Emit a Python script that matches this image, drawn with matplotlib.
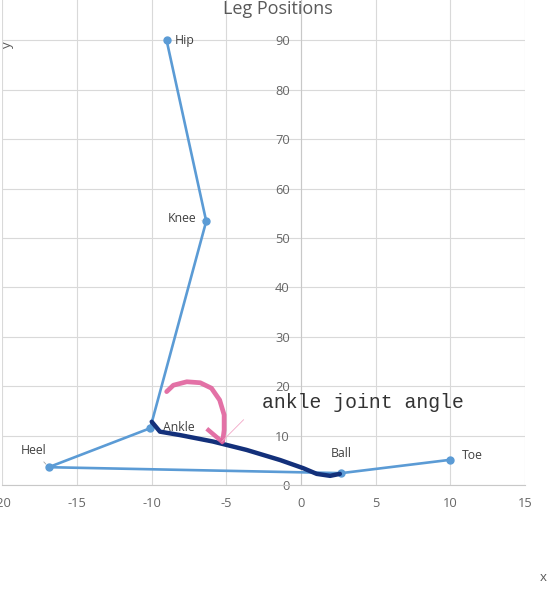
import matplotlib
matplotlib.use("Agg")
import matplotlib.pyplot as plt

plt.rcParams["axes.unicode_minus"] = False

# leg joints, in drawing order
joints = ["Hip", "Knee", "Ankle", "Heel", "Ball", "Toe"]
xs = [-9.0, -6.35, -10.1, -16.9, 2.7, 10.0]
ys = [90.0, 53.4, 11.5, 3.6, 2.4, 5.1]

# hand-drawn overlay: dark stroke ankle -> ball
ink_x = [-10.0, -9.45, -8.1, -5.9, -3.65, -1.4, 0.15, 1.05, 1.95, 2.6]
ink_y = [12.8, 10.8, 10.1, 8.8, 7.1, 5.05, 3.4, 2.25, 1.85, 2.25]

# pink arc for the joint angle
arc_x = [-9.0, -8.55, -7.65, -6.75, -6.0, -5.45, -5.15, -5.15, -5.25]
arc_y = [18.9, 20.2, 20.9, 20.7, 19.6, 17.2, 14.2, 11.1, 8.8]
hook_x = [-6.2, -5.3]
hook_y = [11.1, 8.8]
flick_x = [-5.3, -3.85]
flick_y = [8.8, 13.2]

# label offsets in points
offsets = {
    "Hip": ((5.5, 0), "left"),
    "Knee": ((-7, 2), "right"),
    "Ankle": ((9.5, 0.5), "left"),
    "Heel": ((-11, 12), "center"),
    "Ball": ((0, 14), "center"),
    "Toe": ((8, 3), "left"),
}

grey = "#595959"
grid = "#D9D9D9"

fig = plt.figure(figsize=(5.6, 5.9), dpi=100)
ax = fig.add_axes([0.0043, 0.178, 0.9332, 0.822])

ax.plot(xs, ys, color="#5B9BD5", lw=1.9, marker="o", ms=5, zorder=3)

for name, x, y in zip(joints, xs, ys):
    off, ha = offsets[name]
    arrow = None
    if name in ("Knee", "Heel"):
        arrow = dict(arrowstyle="-", color="#A6A6A6", lw=0.6, shrinkA=2, shrinkB=3)
    ax.annotate(name, xy=(x, y), xytext=off, textcoords="offset points",
                ha=ha, va="center", fontsize=8.8, color="#404040",
                family="Open Sans", arrowprops=arrow, zorder=4)

ax.plot(ink_x, ink_y, color="#13307A", lw=3.2, solid_capstyle="round",
        solid_joinstyle="round", zorder=5)
ax.plot(arc_x, arc_y, color="#E0629C", lw=3.4, alpha=0.9,
        solid_capstyle="round", solid_joinstyle="round", zorder=5)
ax.plot(hook_x, hook_y, color="#E0629C", lw=3.2, alpha=0.9, zorder=5)
ax.plot(flick_x, flick_y, color="#F2A6C6", lw=0.6, zorder=5)

ax.text(-2.6, 16.6, "ankle joint angle", family="Liberation Mono",
        fontsize=14.2, color="#333333", va="center", ha="left", zorder=6)

ax.set_xlim(-20, 15)
ax.set_ylim(0, 98.2)
ax.set_xticks(range(-20, 16, 5))
ax.set_yticks(range(0, 91, 10))
ax.grid(True, color=grid, lw=0.8)
ax.set_axisbelow(True)

for side in ("top", "right"):
    ax.spines[side].set_visible(False)
ax.spines["left"].set_position(("data", 0))
ax.spines["left"].set_color("#C8C8C8")
ax.spines["bottom"].set_color("#C8C8C8")
ax.tick_params(length=0, labelsize=9.3, labelcolor="#666666")
ax.tick_params(axis="y", pad=8)
ax.tick_params(axis="x", pad=9)
for lab in ax.get_xticklabels() + ax.get_yticklabels():
    lab.set_family("Open Sans")

fig.text(0.497, 0.985, "Leg Positions", ha="center", va="center",
         fontsize=13, color=grey, family="Open Sans")
fig.text(0.014, 0.924, "y", rotation=90, ha="center", va="center",
         fontsize=9.5, color=grey, family="Open Sans")
fig.text(0.97, 0.022, "x", ha="center", va="center",
         fontsize=9.5, color=grey, family="Open Sans")

fig.savefig("out.png", dpi=100)
